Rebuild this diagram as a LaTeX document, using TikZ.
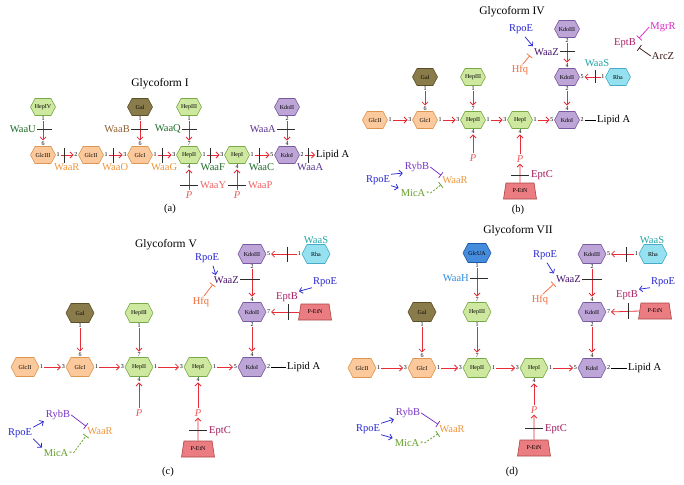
\documentclass[tikz,border=0pt]{standalone}
\usepackage{fontspec}
\setmainfont{Liberation Serif}
\usetikzlibrary{arrows.meta,shapes.geometric,calc}
\definecolor{glcF}{RGB}{251,201,155}\definecolor{glcD}{RGB}{220,150,80}
\definecolor{hepF}{RGB}{206,232,160}\definecolor{hepD}{RGB}{120,170,70}
\definecolor{galF}{RGB}{138,124,74}\definecolor{galD}{RGB}{90,80,40}
\definecolor{kdoF}{RGB}{190,165,215}\definecolor{kdoD}{RGB}{120,90,160}
\definecolor{rhaF}{RGB}{150,225,240}\definecolor{rhaD}{RGB}{70,170,200}
\definecolor{uaF}{RGB}{70,140,220}\definecolor{uaD}{RGB}{30,90,170}
\definecolor{petF}{RGB}{235,125,130}\definecolor{petD}{RGB}{170,70,70}
\definecolor{arr}{RGB}{230,45,55}
\definecolor{pcol}{RGB}{235,90,90}
\definecolor{cgreen}{RGB}{30,110,40}
\definecolor{cbrown}{RGB}{145,95,45}
\definecolor{corange}{RGB}{240,150,60}
\definecolor{cpurple}{RGB}{90,50,150}
\definecolor{csalmon}{RGB}{240,100,100}
\definecolor{crpoe}{RGB}{40,40,210}
\definecolor{crybb}{RGB}{120,50,200}
\definecolor{cmica}{RGB}{100,160,40}
\definecolor{chfq}{RGB}{240,110,60}
\definecolor{cwaaz}{RGB}{70,20,110}
\definecolor{cwaas}{RGB}{30,165,170}
\definecolor{ceptb}{RGB}{170,30,100}
\definecolor{cmgrr}{RGB}{220,40,200}
\definecolor{carcz}{RGB}{60,25,25}
\definecolor{ceptc}{RGB}{160,20,90}
\definecolor{cwaah}{RGB}{50,140,220}
\definecolor{cbar}{RGB}{45,45,45}
\tikzset{
 hexlbl/.style={inner sep=0pt,font=\fontsize{6}{6}\selectfont},
 num/.style={inner sep=0.7pt,font=\fontsize{6}{6}\selectfont},
 ra/.style={draw=arr,line width=0.8pt,-{Straight Barb[length=3pt,width=6pt]}},
 barln/.style={draw=cbar,line width=0.9pt},
 lipl/.style={draw=black,line width=0.8pt},
 lbl/.style={inner sep=1pt,font=\fontsize{10.5}{12}\selectfont},
 ttl/.style={inner sep=1pt,font=\fontsize{11.5}{13}\selectfont},
 pp/.style={inner sep=1pt,font=\fontsize{10.5}{12}\selectfont\itshape,text=pcol},
 pet/.style={trapezium,trapezium angle=72,trapezium stretches=true,minimum width=33pt,minimum height=16pt,fill=petF,draw=petD,line width=0.6pt,inner sep=0pt,font=\fontsize{6}{6}\selectfont},
 act/.style={line width=0.75pt,-{Straight Barb[length=3pt,width=6pt]}},
 inh/.style={line width=0.75pt,-{Bar[width=7pt]}},
}
% hexagon half width, half height, half flat width
\newcommand\hw{12.5}\newcommand\hh{8.5}\newcommand\hf{8}
\newcommand\hexn[5]{%
  \filldraw[fill=#4F,draw=#4D,line width=0.6pt] (#2-\hw,#3) -- (#2-\hf,#3-\hh) -- (#2+\hf,#3-\hh) -- (#2+\hw,#3) -- (#2+\hf,#3+\hh) -- (#2-\hf,#3+\hh) -- cycle;
  \node[hexlbl,minimum width={2*\hw*1pt},minimum height={2*\hh*1pt}] (#1) at (#2,#3) {#5};}
\newcommand\lnkR[5]{%
  \node[num,anchor=west] (#1s) at (#2.east) {#4};
  \node[num,anchor=east] (#1t) at (#3.west) {#5};
  \draw[ra] (#1s) -- (#1t);}
\newcommand\lnkL[5]{%
  \node[num,anchor=east] (#1s) at (#2.west) {#4};
  \node[num,anchor=west] (#1t) at (#3.east) {#5};
  \draw[ra] (#1s) -- (#1t);}
\newcommand\lnkD[5]{%
  \node[num,anchor=north] (#1s) at (#2.south) {#4};
  \node[num,anchor=south] (#1t) at (#3.north) {#5};
  \draw[ra] (#1s) -- (#1t);}
\newcommand\hbarlbl[4]{%
  \coordinate (#1b) at ($(#1s.east)!#2!(#1t.west)$);
  \draw[barln] ($(#1b)+(0,-7.5)$) -- ($(#1b)+(0,7.5)$);
  \node[lbl,text=#3,anchor=north] (#1e) at ($(#1b)+(2,7)$) {#4};}
\newcommand\vbarlbl[6]{%
  \coordinate (#1b) at ($(#1s.south)!#2!(#1t.north)$);
  \draw[barln] ($(#1b)+(-#3,0)$) -- ($(#1b)+(#4,0)$);
  \node[lbl,text=#5,anchor=east] (#1e) at ($(#1b)+(-#3,0)$) {#6};}
\newcommand\vtick[3]{%
  \coordinate (#1b) at ($(#1s.west)!#2!(#1t.east)$);
  \draw[barln] ($(#1b)+(0,-#3)$) -- ($(#1b)+(0,#3)$);}
\newcommand\plink[4]{%
  \node[num,anchor=north] (#1t) at (#2.south) {4};
  \node[pp] (#1p) at (#3,#4) {P};
  \draw[ra] (#1p) -- (#1t);}
\newcommand\hbarR[6]{%
  \coordinate (#1) at ($(#2)!#4!(#3)$);
  \draw[barln] ($(#1)+(-9,0)$) -- ($(#1)+(9,0)$);
  \node[lbl,text=#5,anchor=west] (#1e) at ($(#1)+(10,0)$) {#6};}
\newcommand\srnanet[5]{%
  \node[lbl,text=crpoe] (#1r) at (#2) {RpoE};
  \node[lbl,text=crybb] (#1y) at (#3) {RybB};
  \node[lbl,text=cmica] (#1m) at (#4) {MicA\raisebox{1pt}{\fontsize{6}{6}\selectfont\,*}};
  \node[lbl,text=corange] (#1w) at (#5) {WaaR};
  \draw[act,draw=crpoe,shorten >=1pt] (#1r.north east) -- (#1y.south west);
  \draw[act,draw=crpoe,shorten >=1pt] (#1r.south east) -- (#1m.north west);
  \draw[inh,draw=crybb] (#1y.east) -- (#1w.north west);
  \draw[inh,draw=cmica,dash pattern=on 2pt off 1.5pt] (#1m.east) -- (#1w.south west);}
\begin{document}
\begin{tikzpicture}[x=1pt,y=-1pt]
\fill[white] (0,0) rectangle (684,484);
\useasboundingbox (0,0) rectangle (684,484);
%% ---------------- (a)
\node[ttl] (aT) at (160,84) {Glycoform I};
\hexn{aHepIV}{43}{107}{hep}{HepIV}
\hexn{aGal}{140}{107}{gal}{Gal}
\hexn{aHepIII}{189}{107}{hep}{HepIII}
\hexn{aKdoII}{287}{107}{kdo}{KdoII}
\hexn{aGlcIII}{43}{155}{glc}{GlcIII}
\hexn{aGlcII}{91}{155}{glc}{GlcII}
\hexn{aGlcI}{140}{155}{glc}{GlcI}
\hexn{aHepII}{189}{155}{hep}{HepII}
\hexn{aHepI}{237}{155}{hep}{HepI}
\hexn{aKdoI}{287}{155}{kdo}{KdoI}
\node[lbl,anchor=west] (aLip) at (315,155) {Lipid A};
\lnkD{aV1}{aHepIV}{aGlcIII}{1}{6}
\lnkD{aV2}{aGal}{aGlcI}{1}{6}
\lnkD{aV3}{aHepIII}{aHepII}{1}{7}
\lnkD{aV4}{aKdoII}{aKdoI}{2}{4}
\vbarlbl{aV1}{0.4}{6}{9}{cgreen}{WaaU}
\vbarlbl{aV2}{0.4}{9}{8}{cbrown}{WaaB}
\vbarlbl{aV3}{0.4}{7}{8}{cgreen}{WaaQ}
\vbarlbl{aV4}{0.4}{10}{8}{cpurple}{WaaA}
\lnkR{aH1}{aGlcIII}{aGlcII}{1}{2}
\lnkR{aH2}{aGlcII}{aGlcI}{1}{3}
\lnkR{aH3}{aGlcI}{aHepII}{1}{3}
\lnkR{aH4}{aHepII}{aHepI}{1}{3}
\lnkR{aH5}{aHepI}{aKdoI}{1}{5}
\hbarlbl{aH1}{0.33}{corange}{WaaR}
\hbarlbl{aH2}{0.33}{corange}{WaaO}
\hbarlbl{aH3}{0.33}{corange}{WaaG}
\hbarlbl{aH4}{0.33}{cgreen}{WaaF}
\hbarlbl{aH5}{0.33}{cgreen}{WaaC}
\node[num,anchor=west] (aH6s) at (aKdoI.east) {2};
\draw[ra] (aH6s) -- (aLip);
\coordinate (aH6b) at ($(aH6s.east)!0.35!(aLip.west)$);
\draw[barln] ($(aH6b)+(0,-7.5)$) -- ($(aH6b)+(0,7.5)$);
\node[lbl,text=cpurple,anchor=north] (aH6e) at ($(aH6b)+(2,7)$) {WaaA};
\plink{aP1}{aHepII}{189}{195}
\plink{aP2}{aHepI}{237}{195}
\hbarR{aP1b}{aP1p.north}{aP1t.south}{0.25}{csalmon}{WaaY}
\hbarR{aP2b}{aP2p.north}{aP2t.south}{0.25}{csalmon}{WaaP}
\node[lbl] (aCap) at (170,209) {(a)};
%% ---------------- (b)
\node[ttl] (bT) at (512,12) {Glycoform IV};
\hexn{bKdoIII}{567}{29}{kdo}{KdoIII}
\hexn{bGal}{425}{77}{gal}{Gal}
\hexn{bHepIII}{473}{77}{hep}{HepIII}
\hexn{bKdoII}{567}{77}{kdo}{KdoII}
\hexn{bRha}{618}{77}{rha}{Rha}
\hexn{bGlcII}{375}{120}{glc}{GlcII}
\hexn{bGlcI}{425}{120}{glc}{GlcI}
\hexn{bHepII}{473}{120}{hep}{HepII}
\hexn{bHepI}{520}{120}{hep}{HepI}
\hexn{bKdoI}{567}{120}{kdo}{KdoI}
\node[lbl,anchor=west] (bLip) at (596,120) {Lipid A};
\lnkD{bV1}{bGal}{bGlcI}{1}{6}
\lnkD{bV2}{bHepIII}{bHepII}{1}{7}
\lnkD{bV3}{bKdoIII}{bKdoII}{2}{4}
\lnkD{bV4}{bKdoII}{bKdoI}{2}{4}
\vbarlbl{bV3}{0.44}{7}{8}{cwaaz}{WaaZ}
\lnkR{bH1}{bGlcII}{bGlcI}{1}{3}
\lnkR{bH2}{bGlcI}{bHepII}{1}{3}
\lnkR{bH3}{bHepII}{bHepI}{1}{3}
\lnkR{bH4}{bHepI}{bKdoI}{1}{5}
\node[num,anchor=west] (bH5s) at (bKdoI.east) {2};
\draw[lipl] (bH5s) -- (bLip);
\lnkL{bR}{bRha}{bKdoII}{1}{5}
\vtick{bR}{0.3}{6.5}
\node[lbl,text=cwaas] (bWaaS) at (597,63) {WaaS};
\node[lbl,text=crpoe] (bRpoE) at (521,29) {RpoE};
\draw[act,draw=crpoe] ($(bRpoE.south)+(4,2)$) -- ($(bV3e.north west)+(0,-1)$);
\node[lbl,text=chfq] (bHfq) at (520,70) {Hfq};
\draw[inh,draw=chfq] ($(bHfq.north)+(3,0)$) -- ($(bV3e.south west)+(-3,-1)$);
\node[lbl,text=ceptb] (bEptB) at (625,43) {EptB};
\node[lbl,text=cmgrr] (bMgrR) at (663,27) {MgrR};
\node[lbl,text=carcz] (bArcZ) at (663,56) {ArcZ};
\draw[inh,draw=cmgrr] (bMgrR.west) -- ($(bEptB.north east)+(2,1)$);
\draw[inh,draw=carcz] (bArcZ.west) -- ($(bEptB.south east)+(2,-1)$);
\plink{bP1}{bHepII}{473}{158}
\plink{bP2}{bHepI}{520}{159}
\node[pet] (bPet) at (520,191) {P-EtN};
\draw[ra] (bPet.north) -- (bP2p.south);
\hbarR{bPb}{bPet.north}{bP2p.south}{0.4}{ceptc}{EptC}
\srnanet{bN}{378,180}{417,167}{415,193}{455,180}
\node[lbl] (bCap) at (518,210) {(b)};
%% ---------------- (c)
\renewcommand\hw{14}\renewcommand\hh{9.5}\renewcommand\hf{9}
\node[ttl] (cT) at (166,245) {Glycoform V};
\hexn{cKdoIII}{252}{254}{kdo}{KdoIII}
\hexn{cRha}{316}{254}{rha}{Rha}
\hexn{cGal}{80}{313}{gal}{Gal}
\hexn{cHepIII}{139}{313}{hep}{HepIII}
\hexn{cKdoII}{252}{312}{kdo}{KdoII}
\node[pet] (cPet) at (315,312) {P-EtN};
\hexn{cGlcII}{25}{367}{glc}{GlcII}
\hexn{cGlcI}{80}{367}{glc}{GlcI}
\hexn{cHepII}{139}{367}{hep}{HepII}
\hexn{cHepI}{198}{367}{hep}{HepI}
\hexn{cKdoI}{252}{367}{kdo}{KdoI}
\node[lbl,anchor=west] (cLip) at (286,367) {Lipid A};
\lnkD{cV1}{cGal}{cGlcI}{1}{6}
\lnkD{cV2}{cHepIII}{cHepII}{1}{7}
\lnkD{cV3}{cKdoIII}{cKdoII}{2}{4}
\lnkD{cV4}{cKdoII}{cKdoI}{2}{4}
\vbarlbl{cV3}{0.38}{12}{8}{cwaaz}{WaaZ}
\lnkR{cH1}{cGlcII}{cGlcI}{1}{3}
\lnkR{cH2}{cGlcI}{cHepII}{1}{3}
\lnkR{cH3}{cHepII}{cHepI}{1}{3}
\lnkR{cH4}{cHepI}{cKdoI}{1}{5}
\node[num,anchor=west] (cH5s) at (cKdoI.east) {2};
\draw[lipl] (cH5s) -- (cLip);
\lnkL{cR}{cRha}{cKdoIII}{1}{5}
\vtick{cR}{0.37}{7.5}
\node[lbl,text=cwaas] (cWaaS) at (316,240) {WaaS};
\node[num,anchor=west] (cEt) at (cKdoII.east) {7};
\draw[ra] (cPet.west) -- (cEt);
\coordinate (cEb) at ($(cPet.west)!0.4!(cEt.east)$);
\draw[barln] ($(cEb)+(0,-8)$) -- ($(cEb)+(0,8)$);
\node[lbl,text=ceptb] (cEptB) at (287,297) {EptB};
\node[lbl,text=crpoe] (cRpoE2) at (325,282) {RpoE};
\draw[act,draw=crpoe] (cRpoE2.south west) -- (cEptB.north east);
\node[lbl,text=crpoe] (cRpoE1) at (207,258) {RpoE};
\draw[act,draw=crpoe] ($(cRpoE1.south)+(6,2)$) -- ($(cV3e.north west)+(3,0)$);
\node[lbl,text=chfq] (cHfq) at (201,302) {Hfq};
\draw[inh,draw=chfq] ($(cHfq.north)+(3,0)$) -- ($(cV3e.south west)+(0,0)$);
\plink{cP1}{cHepII}{139}{413}
\plink{cP2}{cHepI}{198}{413}
\node[pet] (cPet2) at (198,449) {P-EtN};
\draw[ra] (cPet2.north) -- (cP2p.south);
\hbarR{cPb}{cPet2.north}{cP2p.south}{0.43}{ceptc}{EptC}
\srnanet{cN}{20,433}{58,415}{58,453}{100,431}
\node[lbl] (cCap) at (168,472) {(c)};
%% ---------------- (d)
\node[ttl] (dT) at (518,231) {Glycoform VII};
\hexn{dGlcUA}{477}{253}{ua}{GlcUA}
\hexn{dKdoIII}{592}{254}{kdo}{KdoIII}
\hexn{dRha}{653}{254}{rha}{Rha}
\hexn{dGal}{422}{312}{gal}{Gal}
\hexn{dHepIII}{477}{312}{hep}{HepIII}
\hexn{dKdoII}{592}{312}{kdo}{KdoII}
\node[pet] (dPet) at (655,311) {P-EtN};
\hexn{dGlcII}{362}{368}{glc}{GlcII}
\hexn{dGlcI}{422}{368}{glc}{GlcI}
\hexn{dHepII}{477}{368}{hep}{HepII}
\hexn{dHepI}{534}{368}{hep}{HepI}
\hexn{dKdoI}{592}{368}{kdo}{KdoI}
\node[lbl,anchor=west] (dLip) at (627,368) {Lipid A};
\lnkD{dV0}{dGlcUA}{dHepIII}{1}{7}
\vbarlbl{dV0}{0.35}{7}{11}{cwaah}{WaaH}
\lnkD{dV1}{dGal}{dGlcI}{1}{6}
\lnkD{dV2}{dHepIII}{dHepII}{1}{7}
\lnkD{dV3}{dKdoIII}{dKdoII}{2}{4}
\lnkD{dV4}{dKdoII}{dKdoI}{2}{4}
\vbarlbl{dV3}{0.36}{10}{10}{cwaaz}{WaaZ}
\lnkR{dH1}{dGlcII}{dGlcI}{1}{3}
\lnkR{dH2}{dGlcI}{dHepII}{1}{3}
\lnkR{dH3}{dHepII}{dHepI}{1}{3}
\lnkR{dH4}{dHepI}{dKdoI}{1}{5}
\node[num,anchor=west] (dH5s) at (dKdoI.east) {2};
\draw[lipl] (dH5s) -- (dLip);
\lnkL{dR}{dRha}{dKdoIII}{1}{5}
\vtick{dR}{0.33}{7.5}
\node[lbl,text=cwaas] (dWaaS) at (652,240) {WaaS};
\node[num,anchor=west] (dEt) at (dKdoII.east) {7};
\draw[ra] (dPet.west) -- (dEt);
\coordinate (dEb) at ($(dPet.west)!0.4!(dEt.east)$);
\draw[barln] ($(dEb)+(0,-8)$) -- ($(dEb)+(0,8)$);
\node[lbl,text=ceptb] (dEptB) at (627,295) {EptB};
\node[lbl,text=crpoe] (dRpoE2) at (663,282) {RpoE};
\draw[act,draw=crpoe] (dRpoE2.south west) -- (dEptB.north east);
\node[lbl,text=crpoe] (dRpoE1) at (545,255) {RpoE};
\draw[act,draw=crpoe] ($(dRpoE1.south)+(2,2)$) -- ($(dV3e.north west)+(-1,-1)$);
\node[lbl,text=chfq] (dHfq) at (540,300) {Hfq};
\draw[inh,draw=chfq] ($(dHfq.north)+(3,0)$) -- ($(dV3e.south west)+(-1,0)$);
\plink{dP}{dHepI}{534}{410}
\node[pet] (dPet2) at (534,448) {P-EtN};
\draw[ra] (dPet2.north) -- (dPp.south);
\hbarR{dPb}{dPet2.north}{dPp.south}{0.43}{ceptc}{EptC}
\srnanet{dN}{368,429}{408,413}{409,443}{452,429}
\node[lbl] (dCap) at (512,472) {(d)};
\end{tikzpicture}
\end{document}
